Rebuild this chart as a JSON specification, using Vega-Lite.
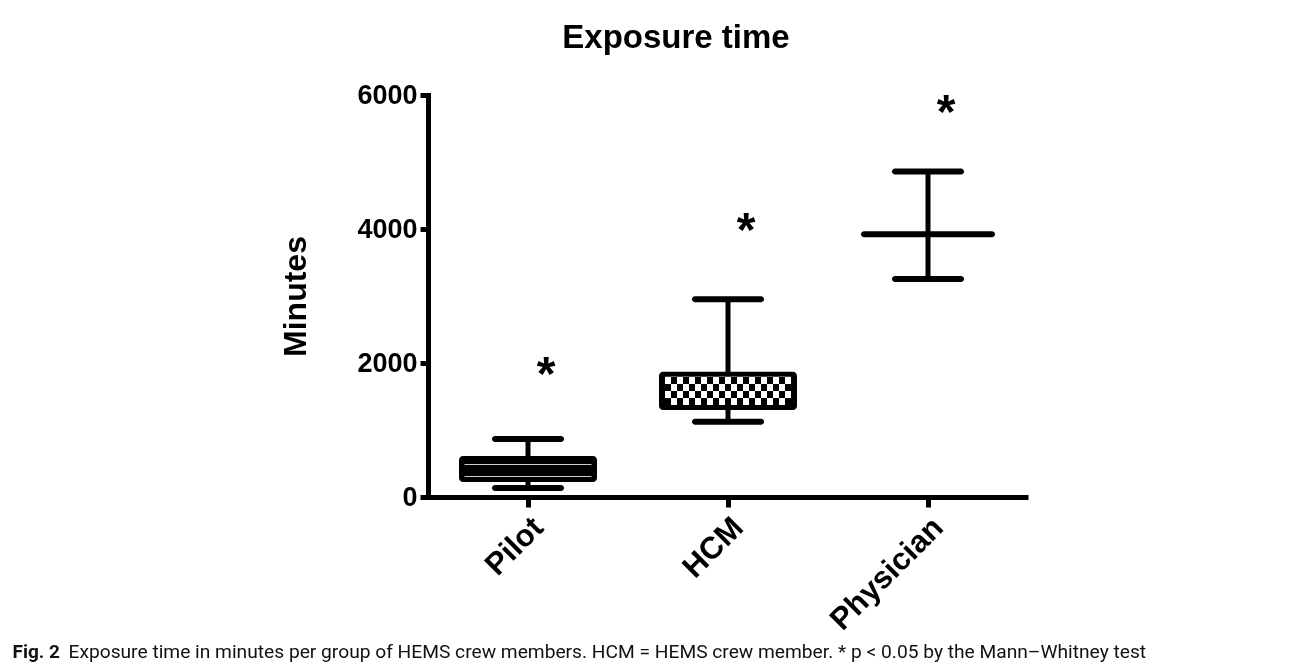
{
  "$schema": "https://vega.github.io/schema/vega-lite/v6.json",
  "width": 600,
  "height": 402,
  "padding": {"left": 12, "top": 22, "right": 5, "bottom": 5},
  "background": "white",
  "config": {"view": {"stroke": null}, "font": "Liberation Sans"},
  "title": {"text": "Exposure time", "font": "Liberation Sans", "fontSize": 33, "fontWeight": "bold", "color": "black", "anchor": "middle", "dx": -52, "offset": 26},
  "data": {"values": [
    {"group": "Pilot", "min": 134, "q1": 224, "median": 403, "q3": 612, "max": 866, "star": 2000},
    {"group": "HCM", "min": 1124, "q1": 1299, "median": 1583, "q3": 1871, "max": 2952, "star": 4150},
    {"group": "Physician", "min": 3255, "q1": 3922, "median": 3922, "q3": 3922, "max": 4857, "star": 5915}
  ]},
  "encoding": {
    "x": {"field": "group", "type": "nominal", "sort": ["Pilot", "HCM", "Physician"],
      "scale": {"paddingInner": 0, "paddingOuter": 0},
      "axis": {"title": "Exposure time in minutes per group of HEMS crew members. HCM = HEMS crew member. * p < 0.05 by the Mann–Whitney test",
        "titleFont": "Roboto", "titleFontSize": 19.2, "titleFontWeight": "normal", "titleColor": "#111",
        "titleAlign": "left", "titleBaseline": "alphabetic", "titleX": -360, "titleY": 160,
        "labelAngle": -45, "labelFont": "Liberation Sans", "labelFontSize": 31, "labelFontWeight": "bold", "labelColor": "black", "labelPadding": 5,
        "tickSize": 10, "tickWidth": 5, "tickColor": "black", "domainWidth": 5, "domainColor": "black", "grid": false}}
  },
  "layer": [
    {"mark": {"type": "rule", "strokeWidth": 5, "color": "black"},
     "encoding": {
       "y": {"field": "min", "type": "quantitative", "scale": {"domain": [0, 6000], "nice": false},
         "axis": {"title": "Minutes", "titleFont": "Liberation Sans", "titleFontSize": 32, "titleFontWeight": "bold", "titleColor": "black", "titlePadding": 44,
           "values": [0, 2000, 4000, 6000], "format": "d", "labelFont": "Liberation Sans", "labelFontSize": 27, "labelFontWeight": "bold", "labelColor": "black", "labelPadding": 3,
           "tickSize": 8, "tickWidth": 5, "tickColor": "black", "domainWidth": 5, "domainColor": "black", "domainCap": "square", "grid": false}},
       "y2": {"field": "max"}}},
    {"mark": {"type": "tick", "thickness": 6, "size": 72, "color": "black", "opacity": 1, "cornerRadius": 3},
     "encoding": {"y": {"field": "min", "type": "quantitative", "axis": null}}},
    {"mark": {"type": "tick", "thickness": 6, "size": 72, "color": "black", "opacity": 1, "cornerRadius": 3},
     "encoding": {"y": {"field": "max", "type": "quantitative", "axis": null}}},
    {"transform": [{"filter": "datum.group !== 'Physician'"}],
     "mark": {"type": "bar", "width": 138, "cornerRadius": 4, "color": "black", "opacity": 1},
     "encoding": {"y": {"field": "q3", "type": "quantitative", "axis": null}, "y2": {"field": "q1"}}},
    {"transform": [{"filter": "datum.group === 'Pilot'"}],
     "mark": {"type": "bar", "width": 127, "opacity": 1,
       "fill": {"gradient": "linear", "x1": 0, "y1": 0, "x2": 0, "y2": 1, "stops": [
         {"offset": 0, "color": "#000"}, {"offset": 0.29, "color": "#000"}, {"offset": 0.29, "color": "#ccc"}, {"offset": 0.33, "color": "#ccc"},
         {"offset": 0.33, "color": "#000"}, {"offset": 0.78, "color": "#000"}, {"offset": 0.78, "color": "#ccc"}, {"offset": 0.82, "color": "#ccc"},
         {"offset": 0.82, "color": "#000"}, {"offset": 1, "color": "#000"}]}},
     "encoding": {"y": {"field": "q3", "type": "quantitative", "axis": null}, "y2": {"field": "q1"}}},
    {"transform": [{"filter": "datum.group === 'HCM'"}],
     "mark": {"type": "bar", "width": 126, "yOffset": 5, "y2Offset": -5, "opacity": 1,
       "fill": {"gradient": "linear", "x1": 0, "y1": 0, "x2": 1, "y2": 0, "stops": [
         {"offset": 0, "color": "#000"}, {"offset": 0.0476, "color": "#000"}, {"offset": 0.0476, "color": "#fff"}, {"offset": 0.0952, "color": "#fff"},
         {"offset": 0.0952, "color": "#000"}, {"offset": 0.1429, "color": "#000"}, {"offset": 0.1429, "color": "#fff"}, {"offset": 0.1905, "color": "#fff"},
         {"offset": 0.1905, "color": "#000"}, {"offset": 0.2381, "color": "#000"}, {"offset": 0.2381, "color": "#fff"}, {"offset": 0.2857, "color": "#fff"},
         {"offset": 0.2857, "color": "#000"}, {"offset": 0.3333, "color": "#000"}, {"offset": 0.3333, "color": "#fff"}, {"offset": 0.381, "color": "#fff"},
         {"offset": 0.381, "color": "#000"}, {"offset": 0.4286, "color": "#000"}, {"offset": 0.4286, "color": "#fff"}, {"offset": 0.4762, "color": "#fff"},
         {"offset": 0.4762, "color": "#000"}, {"offset": 0.5238, "color": "#000"}, {"offset": 0.5238, "color": "#fff"}, {"offset": 0.5714, "color": "#fff"},
         {"offset": 0.5714, "color": "#000"}, {"offset": 0.619, "color": "#000"}, {"offset": 0.619, "color": "#fff"}, {"offset": 0.6667, "color": "#fff"},
         {"offset": 0.6667, "color": "#000"}, {"offset": 0.7143, "color": "#000"}, {"offset": 0.7143, "color": "#fff"}, {"offset": 0.7619, "color": "#fff"},
         {"offset": 0.7619, "color": "#000"}, {"offset": 0.8095, "color": "#000"}, {"offset": 0.8095, "color": "#fff"}, {"offset": 0.8571, "color": "#fff"},
         {"offset": 0.8571, "color": "#000"}, {"offset": 0.9048, "color": "#000"}, {"offset": 0.9048, "color": "#fff"}, {"offset": 0.9524, "color": "#fff"},
         {"offset": 0.9524, "color": "#000"}, {"offset": 1, "color": "#000"}]}},
     "encoding": {"y": {"field": "q3", "type": "quantitative", "axis": null}, "y2": {"field": "q1"}}},
    {"transform": [{"filter": "datum.group === 'HCM'"}],
     "mark": {"type": "bar", "width": 126, "yOffset": 5, "y2Offset": -5, "blend": "difference", "opacity": 1,
       "fill": {"gradient": "linear", "x1": 0, "y1": 0, "x2": 0, "y2": 1, "stops": [
         {"offset": 0, "color": "#fff"}, {"offset": 0.25, "color": "#fff"}, {"offset": 0.25, "color": "rgba(0,0,0,0)"}, {"offset": 0.5, "color": "rgba(0,0,0,0)"},
         {"offset": 0.5, "color": "#fff"}, {"offset": 0.75, "color": "#fff"}, {"offset": 0.75, "color": "rgba(0,0,0,0)"}, {"offset": 1, "color": "rgba(0,0,0,0)"}]}},
     "encoding": {"y": {"field": "q3", "type": "quantitative", "axis": null}, "y2": {"field": "q1"}}},
    {"transform": [{"filter": "datum.group === 'Physician'"}],
     "mark": {"type": "tick", "thickness": 6, "size": 134, "color": "black", "opacity": 1, "cornerRadius": 3},
     "encoding": {"y": {"field": "median", "type": "quantitative", "axis": null}}},
    {"mark": {"type": "text", "text": "*", "font": "Liberation Sans", "fontSize": 48, "fontWeight": "bold", "color": "black", "xOffset": 18, "baseline": "alphabetic", "dy": 27},
     "encoding": {"y": {"field": "star", "type": "quantitative",
       "axis": {"orient": "right", "domain": false, "ticks": false, "labels": false, "grid": false,
         "title": "Fig. 2", "titleAngle": 0, "titleX": -1016, "titleY": 562, "titleAlign": "left", "titleBaseline": "alphabetic",
         "titleFont": "Roboto", "titleFontSize": 19, "titleFontWeight": "bold", "titleColor": "#111"}}}}
  ],
  "resolve": {"axis": {"y": "independent"}}
}
